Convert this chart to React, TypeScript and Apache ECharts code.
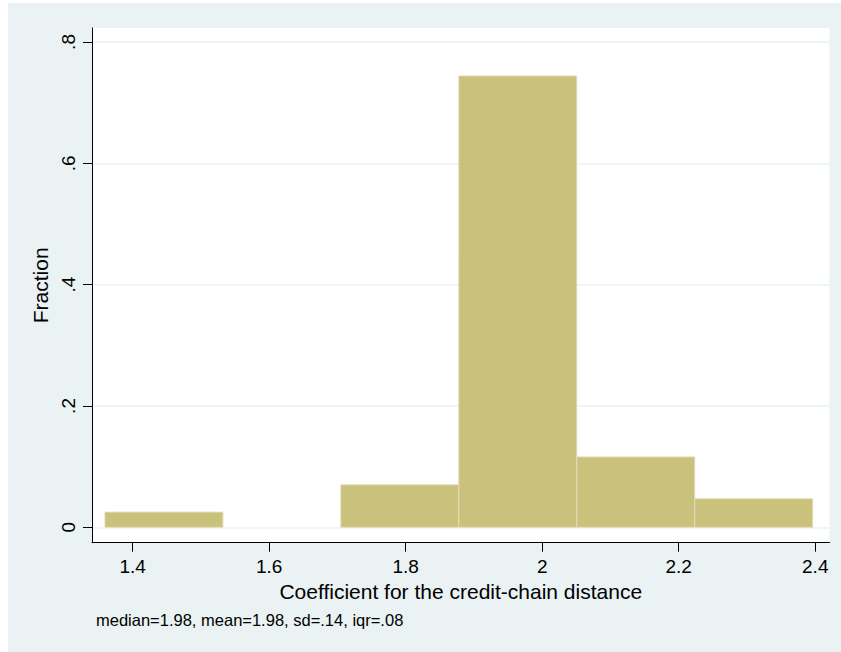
import React, { useEffect, useRef } from "react";
import * as echarts from "echarts";

const binEdges = [1.3594, 1.5322, 1.705, 1.8778, 2.0506, 2.2234, 2.3962];
const fractions = [0.025, 0, 0.07, 0.744, 0.116, 0.047];
const xTicks = [1.4, 1.6, 1.8, 2.0, 2.2, 2.4];
const xTickLabels = ["1.4", "1.6", "1.8", "2", "2.2", "2.4"];
const yTicks = [0, 0.2, 0.4, 0.6, 0.8];
const yTickLabels = ["0", ".2", ".4", ".6", ".8"];
const xTitle = "Coefficient for the credit-chain distance";
const yTitle = "Fraction";
const note = "median=1.98, mean=1.98, sd=.14, iqr=.08";

const FONT = "Liberation Sans, Arial, sans-serif";

export default function App() {
  const ref = useRef<HTMLDivElement>(null);
  useEffect(() => {
    if (!ref.current) return;
    const chart = echarts.init(ref.current, undefined, { renderer: "svg" });
    const data = binEdges.slice(0, -1).map((e, i) => [e, binEdges[i + 1], fractions[i]]).filter((d) => d[2] > 0);
    const fmtX = (v: number) => {
      const i = xTicks.findIndex((t) => Math.abs(t - v) < 1e-6);
      return i >= 0 ? xTickLabels[i] : "";
    };
    const fmtY = (v: number) => {
      const i = yTicks.findIndex((t) => Math.abs(t - v) < 1e-6);
      return i >= 0 ? yTickLabels[i] : "";
    };
    chart.setOption({
      animation: false,
      backgroundColor: "#ffffff",
      textStyle: { fontFamily: FONT },
      graphic: [
        { type: "rect", z: -10, shape: { x: 8, y: 3, width: 833, height: 649 }, style: { fill: "#EAF2F3" }, silent: true },
        { type: "text", x: 96, y: 620, style: { text: note, font: `16.5px ${FONT}`, fill: "#000", verticalAlign: "middle", textAlign: "left" } },
      ],
      grid: {
        left: 92,
        right: 11.5,
        top: 28,
        bottom: 109.3,
        show: true,
        backgroundColor: "#ffffff",
        borderWidth: 0,
      },
      xAxis: {
        type: "value",
        min: 1.3404,
        max: 2.4209,
        name: xTitle,
        nameLocation: "middle",
        nameGap: 36,
        nameTextStyle: { fontSize: 21, color: "#000", fontFamily: FONT },
        axisLine: { show: true, onZero: false, lineStyle: { color: "#000", width: 1 } },
        axisTick: { show: true, length: 9, customValues: xTicks, lineStyle: { color: "#000" } },
        axisLabel: { customValues: xTicks, formatter: fmtX, fontSize: 19, color: "#000", margin: 14, fontFamily: FONT },
        splitLine: { show: false },
      },
      yAxis: {
        type: "value",
        min: -0.0254,
        max: 0.823,
        name: yTitle,
        nameLocation: "middle",
        nameGap: 38,
        nameRotate: 90,
        nameTextStyle: { fontSize: 21, color: "#000", fontFamily: FONT },
        axisLine: { show: true, onZero: false, lineStyle: { color: "#000", width: 1 } },
        axisTick: { show: true, length: 9, customValues: yTicks, lineStyle: { color: "#000" } },
        axisLabel: {
          customValues: yTicks,
          formatter: fmtY,
          rotate: 90,
          align: "center",
          verticalAlign: "bottom",
          fontSize: 19,
          color: "#000",
          margin: 14,
          fontFamily: FONT,
        },
        splitLine: { show: true, lineStyle: { color: "#EAF2F3", width: 1.5 } },
      },
      series: [
        {
          type: "custom",
          data,
          encode: { x: [0, 1], y: 2 },
          renderItem: (params: any, api: any) => {
            const x0 = api.value(0);
            const x1 = api.value(1);
            const h = api.value(2);
            const p0 = api.coord([x0, h]);
            const p1 = api.coord([x1, 0]);
            return {
              type: "rect",
              shape: { x: p0[0], y: p0[1], width: p1[0] - p0[0], height: p1[1] - p0[1] },
              style: { fill: "#C9C17C", stroke: "#E3DDB5", lineWidth: 1 },
            };
          },
        },
      ],
    });
    return () => chart.dispose();
  }, []);
  return <div ref={ref} style={{ position: "absolute", left: 0, top: 0, width: 841, height: 652 }} />;
}
